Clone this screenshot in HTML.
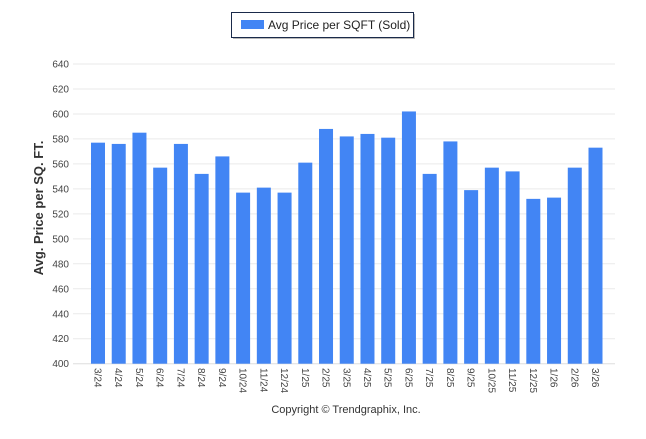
<!DOCTYPE html>
<html><head><meta charset="utf-8"><style>
html,body{margin:0;padding:0;background:#fff;}
body{width:646px;height:434px;overflow:hidden;font-family:"Liberation Sans",sans-serif;}
</style></head><body>
<svg width="646" height="434" xmlns="http://www.w3.org/2000/svg">
<g>
<rect x="233" y="14" width="182" height="25" fill="#333" opacity="0.35"/>
<rect x="231.5" y="12.5" width="182" height="25" fill="#fff" stroke="#1a2a4a" stroke-width="1"/>
<rect x="241" y="20" width="23" height="9" fill="#4285f4"/>
<text x="268" y="29" font-size="12" fill="#222">Avg Price per SQFT (Sold)</text>
</g>
<g id="grid"></g>
<g id="bars"></g>
<g id="xaxis"></g>
<text transform="translate(43,208) rotate(-90)" text-anchor="middle" font-size="13" font-weight="bold" fill="#333">Avg. Price per SQ. FT.</text>
<text x="346" y="413" text-anchor="middle" font-size="11" fill="#333">Copyright © Trendgraphix, Inc.</text>
</svg>
<script>
const categories=["3/24","4/24","5/24","6/24","7/24","8/24","9/24","10/24","11/24","12/24","1/25","2/25","3/25","4/25","5/25","6/25","7/25","8/25","9/25","10/25","11/25","12/25","1/26","2/26","3/26"];
const values=[577,576,585,557,576,552,566,537,541,537,561,588,582,584,581,602,552,578,539,557,554,532,533,557,573];
const yTicks=[400,420,440,460,480,500,520,540,560,580,600,620,640];
const NS="http://www.w3.org/2000/svg";
const y0=363.7,y1=64,vmin=400,vmax=640;
function yScale(v){return y0-(v-vmin)/(vmax-vmin)*(y0-y1);}
const step=(595.5-98)/(categories.length-1);
function xScale(i){return 98+i*step;}
const grid=document.getElementById('grid'),bars=document.getElementById('bars'),xa=document.getElementById('xaxis');
yTicks.forEach(t=>{
 const l=document.createElementNS(NS,'line');
 l.setAttribute('x1',73);l.setAttribute('x2',615);
 l.setAttribute('y1',yScale(t));l.setAttribute('y2',yScale(t));
 l.setAttribute('stroke',t===400?'#ddd':'#eaeaea');l.setAttribute('stroke-width',1);
 
 
 grid.appendChild(l);
 const tx=document.createElementNS(NS,'text');
 tx.setAttribute('x',69);tx.setAttribute('y',yScale(t)+3.5);
 tx.setAttribute('text-anchor','end');tx.setAttribute('font-size','10');tx.setAttribute('fill','#444');
 tx.textContent=t;
 
 
 grid.appendChild(tx);
});
categories.forEach((c,i)=>{
 const r=document.createElementNS(NS,'rect');
 const x=xScale(i),yt=yScale(values[i]);
 r.setAttribute('x',x-7);r.setAttribute('width',14);
 r.setAttribute('y',yt);r.setAttribute('height',y0-yt);
 r.setAttribute('fill','#4285f4');
 
 
 bars.appendChild(r);
 const tx=document.createElementNS(NS,'text');
 tx.setAttribute('transform','translate('+(x-3.5)+',368) rotate(90)');
 tx.setAttribute('font-size','10');tx.setAttribute('fill','#444');
 tx.textContent=c;
 
 
 xa.appendChild(tx);
});
</script>
</body></html>
